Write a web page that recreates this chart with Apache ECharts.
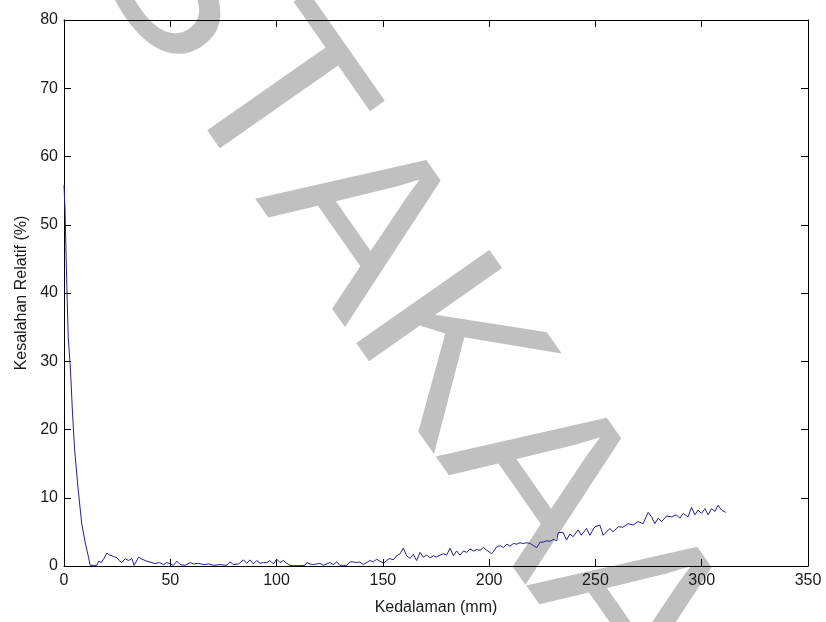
<!DOCTYPE html>
<html>
<head>
<meta charset="utf-8">
<script src="https://cdn.jsdelivr.net/npm/echarts@6/dist/echarts.min.js"></script>
<style>
html,body{margin:0;padding:0;background:#fff;}
#chart{width:826px;height:622px;}
</style>
</head>
<body>
<div id="chart"></div>
<script>
// Depth (mm)
const depth = [0,0.5,1,1.5,2,3,4,5,6.7,8.3,10,11.6,12.3,13.8,15.5,16.3,17.5,18.6,20.2,21.5,23.3,24.9,26,27.2,28.8,30.4,31.9,33.0,35.1,36.7,39.0,41.4,42.9,44.9,46.8,48.4,50.0,51.5,53.1,54.7,57.0,59.4,60.9,63.3,65.6,68.0,70.3,73.4,76.6,78.1,79.7,82.1,84.4,86.0,87.5,89.1,90.7,92.2,93.8,95.4,96.9,98.5,100.1,101.6,103.2,104.8,106.3,107.9,111.0,113.4,114.2,115.7,117.3,118.9,120.4,122.0,123.6,125.1,126.7,128.3,129.8,131.4,133.0,134.5,136.1,137.6,139.2,140.8,142.4,143.9,145.5,147.1,148.6,150.2,151.8,153.3,154.9,156.5,158.1,159.6,161.2,162.8,164.3,165.9,167.5,169.0,170.6,172.2,173.8,175.3,176.9,178.5,180.0,181.6,183.2,184.7,186.3,187.9,189.5,191.0,192.6,194.2,195.7,197.3,198.9,201.2,203.6,205.2,206.7,208.3,209.9,211.4,213.0,214.5,216.1,217.7,219.3,220.8,222.4,224.0,225.5,227.1,228.7,230.2,231.8,232.5,234.8,236.4,238.0,239.5,241.9,243.4,245.8,247.4,249.7,252.1,253.6,256.8,258.3,260.7,263.0,265.4,267.7,270.1,272.4,274.8,276.4,277.9,279.5,281.1,283.4,285.8,288.1,289.7,291.3,293.6,295.2,296.8,298.3,299.9,301.5,303.0,304.6,306.2,307.7,309.3,311.3];
// Relative error (%)
const relErr = [55.8,52,45.3,39,33.5,29,22.4,17,11.1,6.3,3.4,1.2,0.1,0.1,0.1,0.7,0.5,1.0,1.9,1.6,1.4,1.2,0.8,0.5,1.07,0.8,1.1,0.1,1.3,1.0,0.7,0.5,0.35,0.5,0.2,0.5,0.3,0.1,0.7,0.2,0.1,0.5,0.3,0.4,0.2,0.3,0.1,0.2,0.1,0.6,0.2,0.3,0.9,0.4,0.9,0.3,0.8,0.4,0.5,0.5,0.8,0.3,1.0,0.5,0.8,0.4,0.1,0.05,0.05,0.1,0.5,0.3,0.2,0.3,0.4,0.1,0.3,0.5,0.2,0.6,0.1,0.1,0.1,0.6,0.6,0.5,0.6,0.2,0.5,0.8,0.6,1.0,0.7,0.4,0.8,1.1,0.9,1.5,1.8,2.6,1.5,1.1,1.7,0.8,2.0,1.3,1.6,1.2,1.5,1.3,1.6,1.8,1.6,2.6,1.5,2.2,1.6,2.2,2.0,2.5,2.2,2.4,2.3,2.7,2.3,1.8,2.8,3.0,2.7,3.2,2.9,3.3,3.2,3.4,3.3,3.4,3.3,3.0,2.7,3.5,3.5,3.7,3.6,3.9,3.7,4.9,4.9,3.8,4.7,4.3,5.3,4.5,5.5,4.5,5.75,6.0,4.5,5.5,5.0,5.75,5.7,6.2,6.0,6.5,6.2,7.85,7.2,6.2,7.0,6.5,7.3,7.2,7.5,7.0,7.7,7.2,8.6,7.5,8.2,7.7,8.4,7.5,8.4,8.0,8.9,8.2,7.85];
const xTicks = [0,50,100,150,200,250,300,350];
const yTicks = [0,10,20,30,40,50,60,70,80];
const xTitle = 'Kedalaman (mm)';
const yTitle = 'Kesalahan Relatif (%)';
const watermark = ['PERPUST', 'AKAAN'];

const chart = echarts.init(document.getElementById('chart'), null, {renderer:'canvas'});
const pts = depth.map((d,i)=>[d, relErr[i]]);
const FONT = '"Liberation Sans", Arial, sans-serif';
const lblStyle = {color:'#1a1a1a', fontSize:16, fontFamily:FONT};
const lineStyle = {color:'#000', width:1};
const rot = -55*Math.PI/180;
const wmFont = '236px ' + FONT;
chart.setOption({
  animation:false,
  backgroundColor:'#fff',
  graphic:[{
    type:'text', x:-331, y:-752, rotation:rot, z:-10, silent:true,
    style:{text:'{a|' + watermark[0] + '}{b|' + watermark[1] + '}', fill:'#c0c0c0', font:wmFont,
      rich:{a:{font:wmFont, fill:'#c0c0c0'}, b:{font:wmFont, fill:'#c0c0c0'}},
      textAlign:'left', align:'left', textVerticalAlign:'middle', verticalAlign:'middle'}
  }],
  grid:{left:64, right:18, top:20, bottom:56, containLabel:false, outerBoundsMode:'none'},
  xAxis:[{
    type:'value', min:xTicks[0], max:xTicks[xTicks.length-1], interval:50, position:'bottom',
    name:xTitle, nameLocation:'middle', nameGap:34,
    nameTextStyle:{color:'#1a1a1a', fontSize:16, fontFamily:FONT},
    axisLine:{show:true, onZero:false, lineStyle:lineStyle},
    axisTick:{show:true, inside:true, length:7, lineStyle:lineStyle},
    axisLabel:Object.assign({margin:7}, lblStyle),
    splitLine:{show:false}
  },{
    type:'value', min:xTicks[0], max:xTicks[xTicks.length-1], interval:50, position:'top',
    axisLine:{show:true, onZero:false, lineStyle:lineStyle},
    axisTick:{show:true, inside:true, length:7, lineStyle:lineStyle},
    axisLabel:{show:false}, splitLine:{show:false}
  }],
  yAxis:[{
    type:'value', min:yTicks[0], max:yTicks[yTicks.length-1], interval:10, position:'left',
    name:yTitle, nameLocation:'middle', nameGap:27,
    nameTextStyle:{color:'#1a1a1a', fontSize:16, fontFamily:FONT},
    axisLine:{show:true, onZero:false, lineStyle:lineStyle},
    axisTick:{show:true, inside:true, length:7, lineStyle:lineStyle},
    axisLabel:Object.assign({margin:6}, lblStyle),
    splitLine:{show:false}
  },{
    type:'value', min:yTicks[0], max:yTicks[yTicks.length-1], interval:10, position:'right',
    axisLine:{show:true, onZero:false, lineStyle:lineStyle},
    axisTick:{show:true, inside:true, length:7, lineStyle:lineStyle},
    axisLabel:{show:false}, splitLine:{show:false}
  }],
  series:[{
    type:'line', xAxisIndex:0, yAxisIndex:0, data:pts, showSymbol:false, symbol:'none',
    lineStyle:{color:'#20208f', width:1}, z:5
  }]
});
</script>
</body>
</html>
